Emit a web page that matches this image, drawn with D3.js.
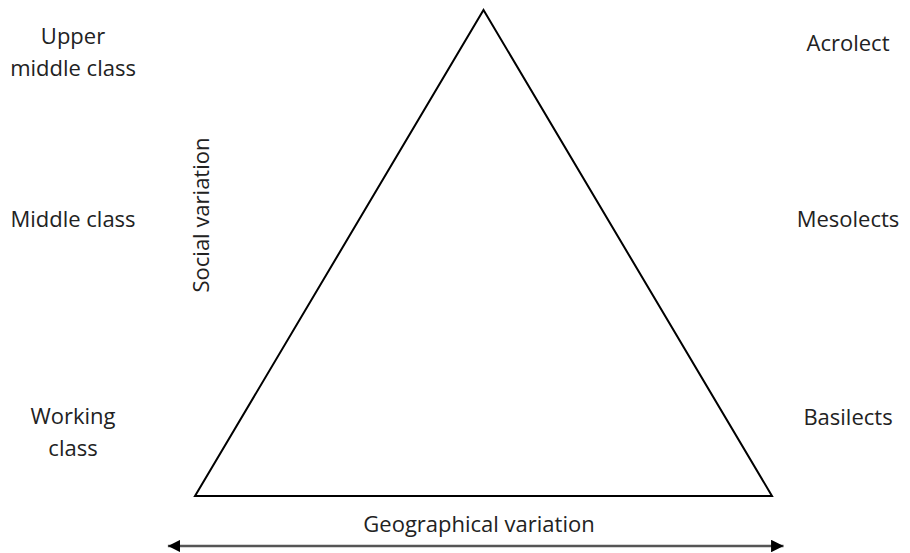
<!DOCTYPE html>
<html>
<head>
<meta charset="utf-8">
<script src="https://cdn.jsdelivr.net/npm/d3@7"></script>
<style>
  body { margin: 0; background: #fff; }
  text { font-family: "Open Sans", sans-serif; font-size: 22px; fill: #222; }
</style>
</head>
<body>
<svg width="910" height="553"></svg>
<script>
const width = 910, height = 553;

// data
const triangle = [[0, 0], [0.5, 1], [1, 0]];   // bottom-left, apex, bottom-right
const classLabels = [["Upper", "middle class"], ["Middle class"], ["Working", "class"]];
const lectLabels = ["Acrolect", "Mesolects", "Basilects"];
const classY = [51, 218, 431];
const lectY = [42, 218, 416];
const socialLabel = "Social variation";
const geoLabel = "Geographical variation";

const lineHeight = 32;

var svg = d3.select("svg");

var x = d3.scaleLinear().domain([0, 1]).range([195, 772]);
var y = d3.scaleLinear().domain([0, 1]).range([496, 10]);

svg.append("defs").append("marker")
  .attr("id", "head")
  .attr("viewBox", "0 0 10 10")
  .attr("refX", 10).attr("refY", 5)
  .attr("markerWidth", 5).attr("markerHeight", 5)
  .attr("markerUnits", "strokeWidth")
  .attr("orient", "auto-start-reverse")
  .append("path")
  .attr("d", "M0,0L10,5L0,10z")
  .attr("fill", "#000");

// the triangle
svg.append("path")
  .datum(triangle)
  .attr("d", d3.line().x(d => x(d[0])).y(d => y(d[1])).curve(d3.curveLinearClosed))
  .attr("fill", "none")
  .attr("stroke", "#000")
  .attr("stroke-width", 2)
  .attr("stroke-linejoin", "miter");

// geographical arrow
svg.append("line")
  .attr("x1", x(-0.047)).attr("x2", x(1.02))
  .attr("y1", 546).attr("y2", 546)
  .attr("stroke", "#555")
  .attr("stroke-width", 2.5)
  .attr("marker-start", "url(#head)")
  .attr("marker-end", "url(#head)");

// left labels (social classes)
classLabels.forEach((lines, i) => {
  var t = svg.append("text")
    .attr("text-anchor", "middle")
    .attr("dominant-baseline", "central");
  var top = classY[i] - (lines.length - 1) * lineHeight / 2;
  lines.forEach((l, j) => {
    t.append("tspan").attr("x", 73).attr("y", top + j * lineHeight).text(l);
  });
});

// right labels (lects)
svg.selectAll(".lect")
  .data(lectLabels)
  .enter().append("text")
  .attr("class", "lect")
  .attr("text-anchor", "middle")
  .attr("dominant-baseline", "central")
  .attr("x", 848)
  .attr("y", (d, i) => lectY[i])
  .text(d => d);

svg.append("text")
  .attr("text-anchor", "middle")
  .attr("dominant-baseline", "central")
  .attr("transform", "translate(200,215) rotate(-90)")
  .text(socialLabel);

svg.append("text")
  .attr("text-anchor", "middle")
  .attr("dominant-baseline", "central")
  .attr("x", 479).attr("y", 523)
  .text(geoLabel);
</script>
</body>
</html>
